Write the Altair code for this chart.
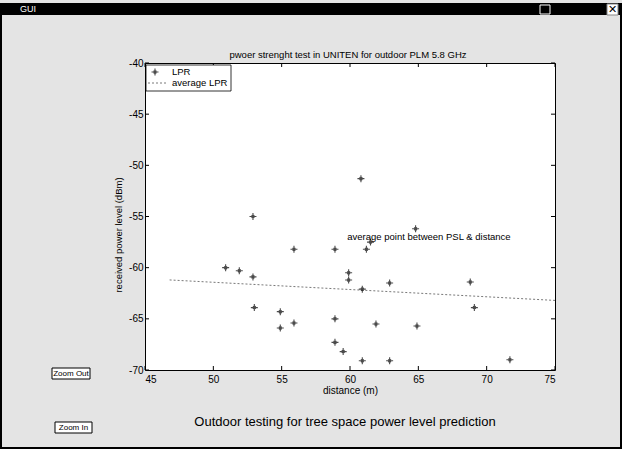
import altair as alt
import pandas as pd

# measured points (distance in m, received power level in dBm)
lpr_x = [60.8, 52.9, 55.9, 58.9, 61.2, 61.5, 50.9, 51.9, 52.9, 59.9, 59.9, 62.9, 60.9, 53.0,
         54.9, 55.9, 54.9, 58.9, 61.9, 58.9, 59.5, 60.9, 62.9, 64.8, 68.8, 69.1, 64.9, 71.7]
lpr_y = [-51.3, -55.0, -58.2, -58.2, -58.2, -57.5, -60.0, -60.3, -60.9, -60.5, -61.2, -61.5, -62.1, -63.9,
         -64.3, -65.4, -65.9, -65.0, -65.5, -67.3, -68.2, -69.1, -69.1, -56.2, -61.4, -63.9, -65.7, -69.0]

# average LPR line end points
avg_x = [46.8, 75.0]
avg_y = [-61.2, -63.2]

x_ticks = [45, 50, 55, 60, 65, 70, 75]
y_ticks = [-70, -65, -60, -55, -50, -45, -40]

title_text = "pwoer strenght test in UNITEN for outdoor PLM 5.8 GHz"
annot_text = "average point between PSL & distance"
annot_pos = (59.8, -57.0)
bottom_text = "Outdoor testing for tree space power level prediction"

FONT = "Liberation Sans"
W, H = 410, 307

xs = alt.Scale(domain=[45, 75], nice=False, zero=False)
ys = alt.Scale(domain=[-70, -40], nice=False, zero=False)

pts = pd.DataFrame({"x": lpr_x, "y": lpr_y})
avg = pd.DataFrame({"x": avg_x, "y": avg_y})
xt = pd.DataFrame({"x": x_ticks})
yt = pd.DataFrame({"y": y_ticks})
one = pd.DataFrame({"a": [0]})

STAR = "M-1,0L1,0M0,-1L0,1M-0.4,-0.4L0.4,0.4M-0.4,0.4L0.4,-0.4"

base_axes = alt.Chart(pts).mark_point(opacity=0).encode(
    x=alt.X("x:Q", scale=xs,
            axis=alt.Axis(values=x_ticks, title="distance (m)", tickSize=0, domain=False, grid=False,
                          labelFontSize=10, labelPadding=4, titleFontSize=10, titleFontWeight="normal",
                          titlePadding=1, labelFont=FONT, titleFont=FONT, labelColor="black",
                          titleColor="black")),
    y=alt.Y("y:Q", scale=ys,
            axis=alt.Axis(values=y_ticks, title=None, tickSize=0, domain=False, grid=False,
                          labelExpr="replace(datum.label, '\u2212', '-')",
                          labelFontSize=10, labelPadding=2, labelFont=FONT, labelColor="black")),
)

points = alt.Chart(pts).mark_point(shape=STAR, size=49, filled=False, stroke="black",
                                   strokeWidth=1.1).encode(
    x=alt.X("x:Q", scale=xs), y=alt.Y("y:Q", scale=ys))

avg_line = alt.Chart(avg).mark_line(color="#555555", strokeDash=[2, 2], strokeWidth=0.8).encode(
    x=alt.X("x:Q", scale=xs), y=alt.Y("y:Q", scale=ys))

# inner ticks (MATLAB style box)
tb = alt.Chart(xt).mark_rule(color="black").encode(x=alt.X("x:Q", scale=xs), y=alt.value(H), y2=alt.value(H - 4))
tt = alt.Chart(xt).mark_rule(color="black").encode(x=alt.X("x:Q", scale=xs), y=alt.value(0), y2=alt.value(4))
tl = alt.Chart(yt).mark_rule(color="black").encode(y=alt.Y("y:Q", scale=ys), x=alt.value(0), x2=alt.value(4))
tr = alt.Chart(yt).mark_rule(color="black").encode(y=alt.Y("y:Q", scale=ys), x=alt.value(W), x2=alt.value(W - 4))

annot = alt.Chart(pd.DataFrame({"x": [annot_pos[0]], "y": [annot_pos[1]]})).mark_text(
    text=annot_text, align="left", baseline="middle", fontSize=9.5, font=FONT, color="black").encode(
    x=alt.X("x:Q", scale=xs), y=alt.Y("y:Q", scale=ys))

title = alt.Chart(one).mark_text(text=title_text, align="center", baseline="middle", fontSize=9.5,
                                 font=FONT, color="black").encode(x=alt.value(203), y=alt.value(-8))

ytitle = alt.Chart(one).mark_text(text="received power level (dBm)", angle=270, align="center",
                                  baseline="middle", fontSize=9.5, font=FONT, color="black").encode(
    x=alt.value(-26), y=alt.value(172))

# legend box
leg_box = alt.Chart(one).mark_rect(fill="white", stroke="black", strokeWidth=0.8).encode(
    x=alt.value(1), x2=alt.value(86), y=alt.value(2), y2=alt.value(28))
leg_pt = alt.Chart(one).mark_point(shape=STAR, size=49, filled=False, stroke="black", strokeWidth=1.1).encode(
    x=alt.value(10), y=alt.value(9))
leg_ln = alt.Chart(one).mark_rule(color="#555555", strokeDash=[2, 2], strokeWidth=0.8).encode(
    x=alt.value(3), x2=alt.value(22), y=alt.value(20))
leg_t1 = alt.Chart(one).mark_text(text="LPR", align="left", baseline="middle", fontSize=9.5, font=FONT,
                                  color="black").encode(x=alt.value(27), y=alt.value(9))
leg_t2 = alt.Chart(one).mark_text(text="average LPR", align="left", baseline="middle", fontSize=9.5,
                                  font=FONT, color="black").encode(x=alt.value(27), y=alt.value(20))

# GUI window decorations
frame = alt.Chart(one).mark_rect(fill=None, stroke="black", strokeWidth=2).encode(
    x=alt.value(-144), x2=alt.value(476), y=alt.value(-59), y2=alt.value(385))
titlebar = alt.Chart(one).mark_rect(fill="black", cornerRadiusTopLeft=5, cornerRadiusTopRight=5).encode(
    x=alt.value(-145), x2=alt.value(477), y=alt.value(-60), y2=alt.value(-48))
gui_t = alt.Chart(one).mark_text(text="GUI", align="left", baseline="middle", fontSize=9, font=FONT,
                                 color="white").encode(x=alt.value(-125), y=alt.value(-54))
icon1 = alt.Chart(one).mark_rect(fill="black", stroke="white", strokeWidth=1).encode(
    x=alt.value(395), x2=alt.value(405), y=alt.value(-58), y2=alt.value(-49))
icon2 = alt.Chart(one).mark_rect(fill="white", stroke="#888888", strokeWidth=1).encode(
    x=alt.value(462), x2=alt.value(473), y=alt.value(-59), y2=alt.value(-48))
icon2x = alt.Chart(one).mark_text(text="✕", align="center", baseline="middle", fontSize=11, font="DejaVu Sans",
                                  color="black", fontWeight="bold").encode(x=alt.value(467.5), y=alt.value(-53.5))

btn_out = alt.Chart(one).mark_rect(fill="white", stroke="black", strokeWidth=1).encode(
    x=alt.value(-93), x2=alt.value(-55), y=alt.value(305), y2=alt.value(316))
btn_out_t = alt.Chart(one).mark_text(text="Zoom Out", align="center", baseline="middle", fontSize=8,
                                     font=FONT, color="black").encode(x=alt.value(-74), y=alt.value(310.5))
btn_in = alt.Chart(one).mark_rect(fill="white", stroke="black", strokeWidth=1).encode(
    x=alt.value(-90), x2=alt.value(-53), y=alt.value(359), y2=alt.value(370))
btn_in_t = alt.Chart(one).mark_text(text="Zoom In", align="center", baseline="middle", fontSize=8,
                                    font=FONT, color="black").encode(x=alt.value(-71.5), y=alt.value(364.5))

bottom = alt.Chart(one).mark_text(text=bottom_text, align="center", baseline="middle", fontSize=13,
                                  font=FONT, color="black").encode(x=alt.value(200), y=alt.value(359))

chart = alt.layer(
    base_axes, avg_line, points, tb, tt, tl, tr, annot, title, ytitle,
    leg_box, leg_pt, leg_ln, leg_t1, leg_t2,
    frame, titlebar, gui_t, icon1, icon2, icon2x,
    btn_out, btn_out_t, btn_in, btn_in_t, bottom,
).properties(
    width=W, height=H,
    autosize=alt.AutoSizeParams(type="none"),
    padding={"left": 145, "top": 63, "right": 67, "bottom": 79},
    background="#e4e4e4",
).configure_view(fill="white", stroke="black", strokeWidth=1)

chart.save("out.html", embed_options={"renderer": "svg", "actions": False})
